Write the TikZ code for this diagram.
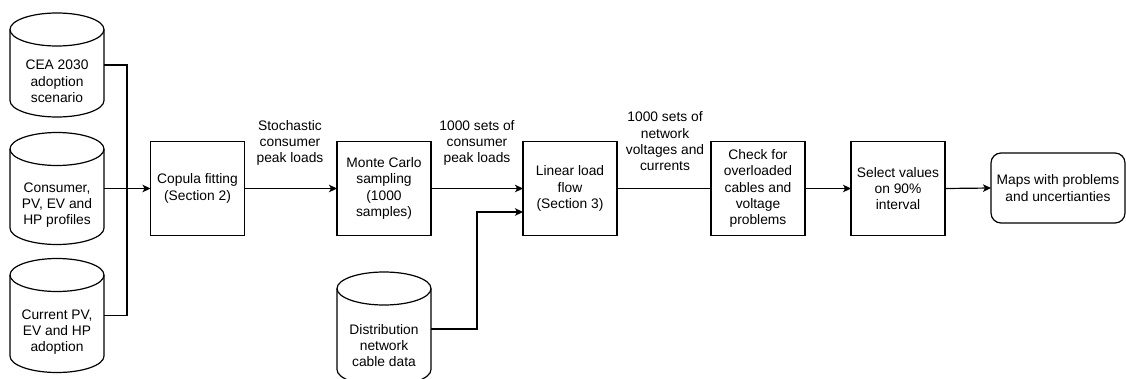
\documentclass[tikz,border=0pt]{standalone}
\usepackage{fontspec}
\setmainfont{Liberation Sans}
\usetikzlibrary{arrows.meta,calc}
\newcommand\mycyl[1]{%
  \draw[line] ($(#1.north)+(0,16.5)$) ellipse [x radius=47pt, y radius=16.5pt];
  \draw[line] ($(#1.north west)+(0,16.5)$) -- ($(#1.south west)+(0,-16.5)$)
     arc[start angle=180, end angle=360, x radius=47pt, y radius=16.5pt]
     -- ($(#1.north east)+(0,16.5)$);
}
\begin{document}
\begin{tikzpicture}[x=1pt,y=-1pt,
  font=\fontsize{13.8pt}{16.3pt}\selectfont,
  line/.style={line width=1.2pt, draw=black},
  arr/.style={line, -{Stealth[length=8pt,width=7.5pt,inset=2pt]}},
  procbox/.style={draw, line width=1.2pt, minimum width=94pt, minimum height=94pt, inner sep=2pt, outer sep=0pt, align=center},
  cylbox/.style={minimum width=94pt, inner sep=0pt, outer sep=0pt},
  cyltext/.style={align=center, inner sep=0pt, yshift=-16.5pt},
  lbl/.style={align=center, inner sep=0pt}]
\useasboundingbox (0,0) rectangle (1126,378);

% cylinders (data sources)
\node[cylbox, minimum height=104pt, label={[cyltext]center:CEA 2030\\adoption\\scenario}] (c1) at (57,65) {};
\node[cylbox, minimum height=112pt, label={[cyltext]center:Consumer,\\PV, EV and\\HP profiles}] (c2) at (57,188.5) {};
\node[cylbox, minimum height=114pt, label={[cyltext]center:Current PV,\\EV and HP\\adoption}] (c3) at (57,315.5) {};
\node[cylbox, minimum height=114pt, label={[cyltext]center:Distribution\\network\\cable data}] (dist) at (384,329) {};
\mycyl{c1}
\mycyl{c2}
\mycyl{c3}
\mycyl{dist}

% process boxes
\node[procbox] (cop) at (197.5,188.5) {Copula fitting\\(Section 2)};
\node[procbox] (mc) at (384,188.5) {Monte Carlo\\sampling\\(1000\\samples)};
\node[procbox] (lin) at (570,188.5) {Linear load\\flow\\(Section 3)};
\node[procbox] (chk) at (758,188.5) {Check for\\overloaded\\cables and\\voltage\\problems};
\node[procbox] (sel) at (898,188.5) {Select values\\on 90\%\\interval};
\node[draw, line width=1.2pt, rounded corners=10pt, minimum width=134pt, minimum height=70pt, inner sep=2pt, outer sep=0pt, align=center] (maps) at (1058,188) {Maps with problems\\and uncertianties};

% edge labels
\node[lbl] (l1) at (290,143) {Stochastic\\consumer\\peak loads};
\node[lbl] (l2) at (477,143) {1000 sets of\\consumer\\peak loads};
\node[lbl] (l3) at (665,141.5) {1000 sets of\\network\\voltages and\\currents};

% connectors
\coordinate (j) at (127,188.5);
\coordinate (k) at (477,212);
\draw[line] (c1.east) -| (j);
\draw[line] (c3.east) -| (j);
\draw[arr] (c2.east) -- (cop.west);
\draw[arr] (cop.east) -- (mc.west);
\draw[arr] (mc.east) -- (lin.west);
\draw[arr] (dist.east) -| (k) -- (k -| lin.west);
\draw[line] (lin.east) -- (chk.west);
\draw[arr] (chk.east) -- (sel.west);
\draw[arr] (sel.east) -- (maps.west);
\end{tikzpicture}
\end{document}
